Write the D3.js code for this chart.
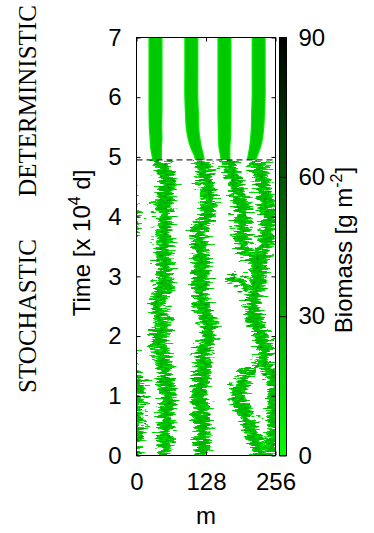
<!DOCTYPE html>
<html>
<head>
<meta charset="utf-8">
<script src="https://cdn.jsdelivr.net/npm/d3@7"></script>
<style>
  body { margin: 0; background: #fff; }
</style>
</head>
<body>
<svg id="chart" width="374" height="533" font-family="Liberation Sans, Arial, sans-serif"></svg>
<script>
// ---- data ----
// stochastic run: time (x 10^4 d) and band centre positions (m), null = band absent
const stochTimes = [0, 0.25, 0.5, 0.75, 1, 1.25, 1.5, 1.75, 2, 2.25, 2.5, 2.75, 3, 3.25, 3.5, 3.75, 4, 4.25, 4.5, 4.75, 5];
const band1 = [52, 53, 53, 55, 58, 53, 50, 46, 42, 48, 39, 47, 52, 50, 51, 50, 53, 48, 58, 52, 40];
const band2 = [120, 122, 122, 120, 114, 120, 125, 122, 135, 130, 122, 118, 120, 120, 118, 114, 130, 133, 130, 125, 119];
const band3Upper = [null, null, null, null, null, null, 230, 236, 230, 218, 214, 222, 225, 218, 198, 193, 196, 192, 183, 176, 168];
const band4Upper = [null, null, null, null, null, null, null, null, null, null, null, null, 226, 228, 234, 243, 245, 238, 234, 228, 222];
const band3Lower = [228, 220, 208, 198, 188, 195, 218, null, null, null, null, null, null, null, null, null, null, null, null, null, null];
const band4Lower = [246, 252, 256, 254, 257, 255, 240, null, null, null, null, null, null, null, null, null, null, null, null, null, null];
// short side branch joining band 3
const branchTimes = [2.75, 2.9, 3.05];
const branchX = [214, 190, 178];

// deterministic run
const detTimes = [4.95, 5.05, 5.15, 5.3, 5.5, 5.75, 6.0, 6.5, 7.0];
const det1 = [38, 37, 36, 36, 35, 35, 35, 35, 35];
const det2 = [117, 114, 110, 106, 103, 102, 101, 101, 101];
const det3 = [164, 163, 162, 162, 162, 162, 162, 162, 162];
const det4 = [212, 215, 218, 221, 223, 224, 225, 225, 225];
const detHalfWidth = [9, 10, 11, 12, 12.5, 13, 13, 13, 13];

const timeTicks = [0, 1, 2, 3, 4, 5, 6, 7];
const spaceTicks = [0, 128, 256];
const biomassTicks = [0, 30, 60, 90];

// ---- chart ----
const sansFont = "Liberation Sans, Arial, sans-serif";
const serifFont = "Liberation Serif, Times New Roman, serif";
const svg = d3.select("#chart");
const x = d3.scaleLinear().domain([0, 256]).range([136.5, 275.5]);
const y = d3.scaleLinear().domain([0, 7]).range([455.5, 37.5]);
const color = d3.scaleLinear().domain([0, 90]).range(["#00ff00", "#000000"]);
const cbScale = d3.scaleLinear().domain([0, 90]).range([455.5, 37.5]);

const defs = svg.append("defs");
defs.append("clipPath").attr("id", "clipStoch")
  .append("rect").attr("x", x(0)).attr("y", y(4.95))
  .attr("width", x(256) - x(0)).attr("height", y(0) - y(4.95));
defs.append("clipPath").attr("id", "clipDet")
  .append("rect").attr("x", x(0)).attr("y", y(7))
  .attr("width", x(256) - x(0)).attr("height", y(4.95) - y(7));

// rough edges + darker speckles for the noisy run
const rough = defs.append("filter").attr("id", "rough")
  .attr("filterUnits", "userSpaceOnUse")
  .attr("x", 100).attr("y", 0).attr("width", 220).attr("height", 533)
  .attr("color-interpolation-filters", "sRGB");
rough.append("feTurbulence").attr("type", "fractalNoise")
  .attr("baseFrequency", "0.09 0.5").attr("numOctaves", 2).attr("seed", 4)
  .attr("result", "noise");
rough.append("feDisplacementMap").attr("in", "SourceGraphic").attr("in2", "noise")
  .attr("scale", 24).attr("xChannelSelector", "R").attr("yChannelSelector", "B")
  .attr("result", "disp");
rough.append("feTurbulence").attr("type", "fractalNoise")
  .attr("baseFrequency", "0.25 0.7").attr("numOctaves", 1).attr("seed", 9)
  .attr("result", "n2");
rough.append("feColorMatrix").attr("in", "n2").attr("type", "matrix")
  .attr("values", "0 0 0 0 0  0 0 0 0 0.55  0 0 0 0 0  4 0 0 0 -2.2")
  .attr("result", "speck");
rough.append("feComposite").attr("in", "speck").attr("in2", "disp")
  .attr("operator", "in").attr("result", "speckIn");
const merge = rough.append("feMerge");
merge.append("feMergeNode").attr("in", "disp");
merge.append("feMergeNode").attr("in", "speckIn");

function bandPath(times, centres, hw, off) {
  const pts = times.map((t, i) => ({
    t: t, c: centres[i], w: Array.isArray(hw) ? hw[i] : hw
  }));
  return d3.area()
    .defined(d => d.c != null)
    .y(d => y(d.t))
    .x0(d => x(d.c + off - d.w))
    .x1(d => x(d.c + off + d.w))
    .curve(d3.curveCatmullRom)(pts);
}

// stochastic bands (periodic domain, so draw wrapped copies too)
const stochBands = [band1, band2, band3Upper, band4Upper, band3Lower, band4Lower];
const gStoch = svg.append("g").attr("clip-path", "url(#clipStoch)")
  .append("g").attr("filter", "url(#rough)");

[{ hw: 14, b: 12 }, { hw: 8, b: 24 }].forEach(layer => {
  [-256, 0, 256].forEach(off => {
    stochBands.forEach(c => {
      gStoch.append("path")
        .attr("d", bandPath(stochTimes, c, layer.hw, off))
        .attr("fill", color(layer.b));
    });
    gStoch.append("path")
      .attr("d", bandPath(branchTimes, branchX, layer.hw, off))
      .attr("fill", color(layer.b));
  });
});

// deterministic bands
const gDet = svg.append("g").attr("clip-path", "url(#clipDet)");
[det1, det2, det3, det4].forEach(c => {
  gDet.append("path")
    .attr("d", bandPath(detTimes, c, detHalfWidth, 0))
    .attr("fill", color(6));
  gDet.append("path")
    .attr("d", bandPath(detTimes, c, detHalfWidth.map(w => w - 2.2), 0))
    .attr("fill", color(19));
});

// switch line
svg.append("line")
  .attr("x1", x(0)).attr("x2", x(256))
  .attr("y1", y(4.95)).attr("y2", y(4.95))
  .attr("stroke", "#000").attr("stroke-width", 1)
  .attr("stroke-dasharray", "6,4");

// axes
const fs = "24px";
const yAxis = svg.append("g").attr("transform", `translate(${x(0)},0)`)
  .call(d3.axisLeft(y).tickValues(timeTicks).tickFormat(d3.format("d")).tickSize(-4).tickPadding(15));
const yAxisR = svg.append("g").attr("transform", `translate(${x(256)},0)`)
  .call(d3.axisRight(y).tickValues(timeTicks).tickSize(-4).tickFormat(""));
const xAxis = svg.append("g").attr("transform", `translate(0,${y(0)})`)
  .call(d3.axisBottom(x).tickValues(spaceTicks).tickFormat(d3.format("d")).tickSize(-4).tickPadding(17));
const xAxisT = svg.append("g").attr("transform", `translate(0,${y(7)})`)
  .call(d3.axisTop(x).tickValues(spaceTicks).tickSize(-4).tickFormat(""));
[yAxis, yAxisR, xAxis, xAxisT].forEach(a => {
  a.select(".domain").remove();
  a.selectAll("text").attr("font-size", fs).attr("fill", "#000")
    .attr("font-family", sansFont);
  a.selectAll("line").attr("stroke", "#000");
});

svg.append("rect")
  .attr("x", x(0)).attr("y", y(7))
  .attr("width", x(256) - x(0)).attr("height", y(0) - y(7))
  .attr("fill", "none").attr("stroke", "#000").attr("stroke-width", 1);

// colour bar
const grad = defs.append("linearGradient").attr("id", "cbGrad")
  .attr("x1", 0).attr("y1", 1).attr("x2", 0).attr("y2", 0);
d3.range(0, 91, 10).forEach(v => {
  grad.append("stop").attr("offset", v / 90).attr("stop-color", color(v));
});
svg.append("rect")
  .attr("x", 279.5).attr("y", cbScale(90))
  .attr("width", 7).attr("height", cbScale(0) - cbScale(90))
  .attr("fill", "url(#cbGrad)").attr("stroke", "#000").attr("stroke-width", 1);
const cAxis = svg.append("g").attr("transform", "translate(286.5,0)")
  .call(d3.axisRight(cbScale).tickValues(biomassTicks).tickSize(-7).tickPadding(12));
cAxis.select(".domain").remove();
cAxis.selectAll("line").attr("stroke", "#000");
cAxis.selectAll("text").attr("font-size", fs).attr("fill", "#000")
  .attr("font-family", sansFont);

// titles
const timeLabel = svg.append("text")
  .attr("transform", "translate(90,243) rotate(-90)")
  .attr("text-anchor", "middle").attr("font-size", fs).attr("font-family", sansFont);
timeLabel.append("tspan").text("Time [x 10");
timeLabel.append("tspan").attr("font-size", "16px").attr("dy", -10).text("4");
timeLabel.append("tspan").attr("dy", 10).text(" d]");

const bioLabel = svg.append("text")
  .attr("transform", "translate(352,250) rotate(-90)")
  .attr("text-anchor", "middle").attr("font-size", fs).attr("font-family", sansFont);
bioLabel.append("tspan").text("Biomass [g m");
bioLabel.append("tspan").attr("font-size", "16px").attr("dy", -10).text("-2");
bioLabel.append("tspan").attr("dy", 10).text("]");

svg.append("text").attr("x", 206).attr("y", 524)
  .attr("text-anchor", "middle").attr("font-size", fs).attr("font-family", sansFont)
  .text("m");

svg.append("text")
  .attr("transform", "translate(36,316) rotate(-90)")
  .attr("text-anchor", "middle").attr("font-size", "25px")
  .attr("font-family", serifFont)
  .text("STOCHASTIC");
svg.append("text")
  .attr("transform", "translate(36,101) rotate(-90)")
  .attr("text-anchor", "middle").attr("font-size", "25px")
  .attr("font-family", serifFont)
  .text("DETERMINISTIC");
</script>
</body>
</html>
